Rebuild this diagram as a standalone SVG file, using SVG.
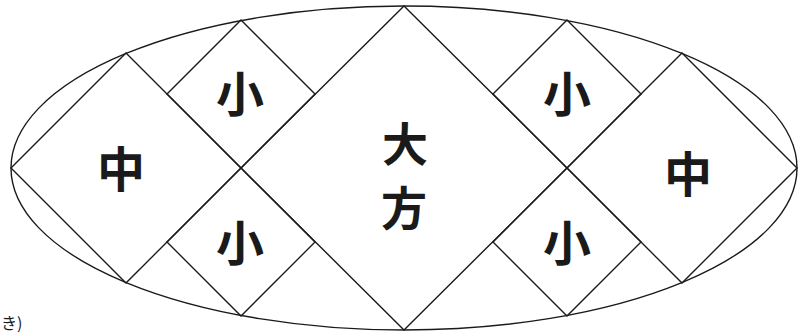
<svg xmlns="http://www.w3.org/2000/svg" width="805" height="335" viewBox="0 0 805 335">
<style>
.ln{fill:none;stroke:#1a1a1a;stroke-width:1.4;stroke-linejoin:miter}
.t{font-family:"Noto Sans CJK JP","Noto Sans CJK SC",sans-serif;font-weight:700;fill:#1a1a1a;text-anchor:middle;dominant-baseline:central}
.s{font-size:48px}
.m{font-size:48px}
.l{font-size:46px}
</style>
<rect width="805" height="335" fill="#fff"/>
<g id="ellipse"><ellipse class="ln" cx="404" cy="168" rx="393" ry="162"/></g>
<g id="large"><polygon class="ln" points="404,6 567,168 404,330 241,168"/><text class="t l" x="405" y="141">大</text><text class="t l" x="404" y="205">方</text></g>
<g id="medium-left"><polygon class="ln" points="11,168 126,53 241,168 126,283"/><text class="t m" x="121" y="166">中</text></g>
<g id="medium-right"><polygon class="ln" points="567,168 682,53 797,168 682,283"/><text class="t m" x="688" y="171">中</text></g>
<g id="small-lt"><polygon class="ln" points="241,20 315,94 241,168 167,94"/><text class="t s" x="240" y="91">小</text></g>
<g id="small-lb"><polygon class="ln" points="241,168 315,242 241,316 167,242"/><text class="t s" x="240" y="240">小</text></g>
<g id="small-rt"><polygon class="ln" points="567,20 641,94 567,168 493,94"/><text class="t s" x="567" y="91">小</text></g>
<g id="small-rb"><polygon class="ln" points="567,168 641,242 567,316 493,242"/><text class="t s" x="567" y="240">小</text></g>
<text x="1" y="329" style="font-family:'Noto Sans CJK JP',sans-serif;font-size:16px;fill:#1a1a1a">き)</text>
</svg>
